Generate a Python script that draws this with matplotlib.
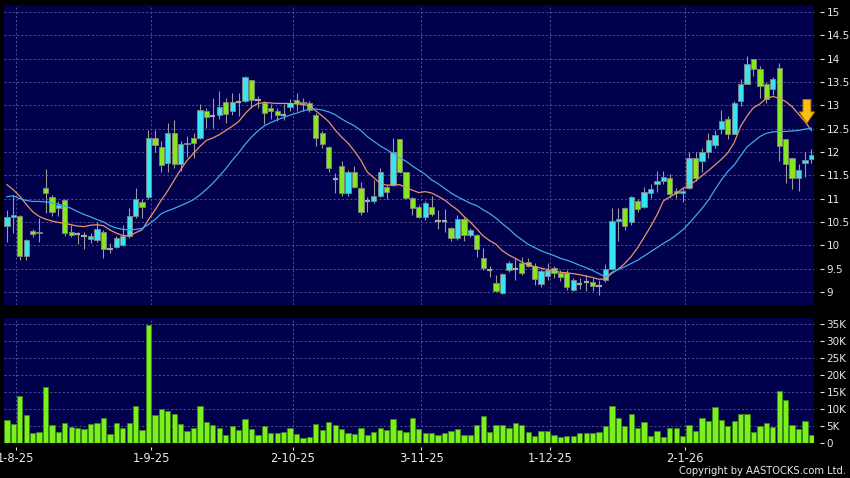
import matplotlib
matplotlib.use('Agg')
import matplotlib.pyplot as plt
import numpy as np

# daily candles, one per trading day (index 0 = 31-7-25, last = 30-1-26)
opens = [10.41, 10.60, 10.63, 9.77, 10.31, 10.26, 11.22, 11.04, 10.79, 10.97,
         10.28, 10.24, 10.19, 10.14, 10.11, 10.29, 9.91, 9.97, 10.01, 10.19,
         10.63, 10.92, 11.03, 12.31, 12.11, 11.76, 12.41, 11.74, 12.17, 12.29,
         12.31, 12.88, 12.77, 12.79, 13.08, 12.88, 13.08, 13.09, 13.54, 13.11,
         13.06, 12.95, 12.88, 12.79, 12.96, 13.11, 13.08, 13.04, 12.80, 12.40,
         12.10, 11.43, 11.69, 11.11, 11.58, 11.22, 10.94, 10.94, 11.06, 11.24,
         11.29, 12.27, 11.56, 11.01, 10.81, 10.61, 10.83, 10.53, 10.53, 10.36,
         10.15, 10.56, 10.22, 10.22, 9.72, 9.48, 9.20, 8.98, 9.46, 9.49,
         9.61, 9.65, 9.56, 9.17, 9.34, 9.51, 9.41, 9.41, 9.04, 9.17,
         9.22, 9.22, 9.13, 9.26, 9.49, 10.51, 10.79, 10.49, 10.94, 10.81,
         11.13, 11.31, 11.38, 11.45, 11.16, 11.11, 11.22, 11.86, 11.81, 11.99,
         12.15, 12.49, 12.70, 12.39, 13.09, 13.45, 13.99, 13.77, 13.46, 13.36,
         13.79, 12.27, 11.88, 11.44, 11.76, 11.84]
highs = [10.76, 11.08, 10.65, 10.14, 10.35, 10.59, 11.63, 11.08, 10.95, 11.00,
         10.44, 10.29, 10.29, 10.27, 10.50, 10.33, 10.04, 10.20, 10.44, 10.80,
         11.22, 10.99, 12.48, 12.48, 12.23, 12.62, 12.68, 12.24, 12.35, 12.41,
         13.02, 12.95, 13.15, 13.31, 13.15, 13.27, 13.27, 13.63, 13.54, 13.20,
         13.09, 13.02, 12.95, 13.02, 13.13, 13.27, 13.16, 13.10, 12.84, 12.45,
         12.13, 11.54, 11.81, 11.62, 11.69, 11.36, 11.04, 11.39, 11.65, 11.29,
         12.29, 12.27, 11.58, 11.04, 10.86, 10.95, 11.05, 10.75, 10.78, 10.40,
         10.65, 10.60, 10.36, 10.25, 9.95, 9.55, 9.36, 9.40, 9.66, 9.72,
         9.74, 9.72, 9.61, 9.50, 9.62, 9.55, 9.48, 9.47, 9.29, 9.29,
         9.36, 9.29, 9.25, 9.59, 10.80, 10.80, 10.83, 11.05, 10.99, 11.24,
         11.31, 11.59, 11.59, 11.52, 11.23, 11.23, 11.99, 11.99, 12.09, 12.41,
         12.47, 12.91, 12.77, 13.10, 13.56, 14.06, 13.99, 13.84, 13.51, 13.60,
         13.91, 12.27, 11.88, 11.75, 12.00, 12.07]
lows = [10.06, 10.27, 9.69, 9.69, 10.17, 10.08, 10.69, 10.63, 10.63, 10.20,
        10.17, 10.02, 9.93, 10.04, 10.07, 9.72, 9.84, 9.95, 9.99, 10.16,
        10.58, 10.58, 11.00, 12.00, 11.58, 11.56, 11.66, 11.59, 11.90, 11.88,
        12.27, 12.52, 12.52, 12.70, 12.63, 12.80, 12.77, 13.07, 12.95, 12.95,
        12.59, 12.70, 12.66, 12.68, 12.88, 12.88, 12.88, 12.86, 12.13, 12.08,
        11.56, 11.11, 11.05, 11.05, 11.22, 10.65, 10.72, 10.90, 11.03, 10.99,
        11.26, 11.55, 10.99, 10.65, 10.58, 10.55, 10.62, 10.35, 10.28, 10.10,
        10.12, 10.10, 10.18, 9.75, 9.48, 9.33, 9.00, 8.96, 9.43, 9.25,
        9.37, 9.53, 9.15, 9.11, 9.25, 9.30, 9.24, 9.04, 9.01, 9.06,
        9.03, 9.01, 8.94, 9.22, 9.47, 10.10, 10.33, 10.44, 10.72, 10.79,
        11.02, 11.14, 11.31, 11.02, 11.02, 10.92, 11.20, 11.38, 11.56, 11.88,
        12.09, 12.38, 12.27, 12.38, 12.98, 13.45, 13.63, 13.16, 13.06, 13.23,
        11.80, 11.34, 11.20, 11.17, 11.47, 11.77]
closes = [10.60, 10.65, 9.77, 10.11, 10.24, 10.29, 11.13, 10.72, 10.86, 10.26,
          10.21, 10.24, 10.19, 10.20, 10.34, 9.91, 9.91, 10.15, 10.20, 10.63,
          10.99, 10.82, 12.31, 12.15, 11.72, 12.41, 11.74, 12.18, 12.20, 12.20,
          12.89, 12.75, 12.77, 12.96, 12.81, 13.08, 13.08, 13.61, 13.11, 13.11,
          12.84, 12.88, 12.79, 12.79, 13.04, 13.06, 13.04, 12.91, 12.29, 12.17,
          11.66, 11.43, 11.12, 11.56, 11.24, 10.72, 10.94, 11.06, 11.56, 11.15,
          11.99, 11.56, 11.01, 10.79, 10.60, 10.90, 10.67, 10.53, 10.53, 10.15,
          10.56, 10.22, 10.33, 9.92, 9.51, 9.48, 9.03, 9.39, 9.63, 9.49,
          9.40, 9.56, 9.27, 9.44, 9.46, 9.40, 9.33, 9.10, 9.26, 9.17,
          9.22, 9.13, 9.13, 9.49, 10.51, 10.56, 10.41, 11.03, 10.77, 11.15,
          11.21, 11.38, 11.46, 11.09, 11.11, 11.16, 11.86, 11.45, 12.00, 12.25,
          12.36, 12.66, 12.39, 13.06, 13.45, 13.88, 13.77, 13.41, 13.13, 13.56,
          12.13, 11.75, 11.44, 11.61, 11.82, 11.93]
volume_k = [6.8, 5.6, 14.0, 8.4, 3.1, 3.4, 16.5, 5.4, 3.2, 5.8,
            4.9, 4.5, 4.1, 5.7, 6.0, 7.5, 2.8, 5.9, 4.4, 5.8,
            10.9, 3.9, 34.7, 8.3, 9.9, 9.6, 8.5, 5.6, 3.7, 4.5,
            10.9, 6.1, 5.5, 4.5, 2.4, 5.0, 3.8, 7.1, 4.2, 2.4,
            5.0, 2.9, 2.9, 3.3, 4.5, 2.7, 1.6, 1.9, 5.6, 3.9,
            6.2, 5.3, 4.1, 3.1, 2.7, 4.4, 2.4, 3.4, 4.4, 3.8,
            7.1, 3.9, 3.3, 7.3, 4.2, 2.9, 2.9, 2.3, 3.0, 3.7,
            4.2, 2.3, 2.4, 5.4, 8.0, 3.2, 5.4, 5.4, 4.5, 5.9,
            5.5, 3.3, 2.2, 3.7, 3.6, 2.3, 1.8, 2.2, 2.0, 3.0,
            2.9, 2.9, 3.2, 5.0, 10.8, 7.5, 5.0, 8.5, 4.5, 6.1,
            2.2, 3.7, 1.7, 4.5, 4.6, 2.2, 5.3, 3.7, 7.4, 6.6,
            10.7, 6.7, 5.1, 6.6, 8.5, 8.7, 3.3, 5.1, 5.8, 4.7,
            15.3, 12.7, 5.4, 4.2, 6.5, 2.3]
# moving average lines
ma10 = [11.30, 11.19, 11.05, 10.88, 10.72, 10.62, 10.56, 10.52, 10.49, 10.47,
        10.44, 10.41, 10.40, 10.43, 10.44, 10.42, 10.33, 10.26, 10.21, 10.20,
        10.27, 10.33, 10.55, 10.75, 10.97, 11.17, 11.40, 11.62, 11.82, 11.97,
        12.12, 12.25, 12.30, 12.37, 12.46, 12.55, 12.65, 12.82, 12.96, 13.04,
        13.06, 13.05, 13.04, 13.04, 13.04, 13.03, 13.02, 12.99, 12.88, 12.77,
        12.65, 12.47, 12.32, 12.19, 12.02, 11.82, 11.57, 11.45, 11.33, 11.29,
        11.29, 11.30, 11.24, 11.18, 11.13, 11.15, 11.12, 11.05, 10.97, 10.86,
        10.76, 10.62, 10.50, 10.35, 10.20, 10.10, 10.02, 9.88, 9.79, 9.72,
        9.64, 9.58, 9.54, 9.51, 9.48, 9.45, 9.42, 9.41, 9.39, 9.37,
        9.34, 9.31, 9.27, 9.28, 9.40, 9.49, 9.61, 9.76, 9.95, 10.17,
        10.40, 10.65, 10.95, 11.04, 11.11, 11.22, 11.28, 11.38, 11.49, 11.60,
        11.72, 11.84, 11.98, 12.20, 12.55, 12.77, 12.95, 13.03, 13.15, 13.19,
        13.15, 13.08, 12.97, 12.81, 12.65, 12.46]
ma20 = [11.04, 11.06, 11.00, 10.96, 10.94, 10.94, 10.93, 10.91, 10.88, 10.84,
        10.79, 10.72, 10.66, 10.61, 10.55, 10.50, 10.42, 10.37, 10.34, 10.33,
        10.34, 10.36, 10.45, 10.55, 10.68, 10.74, 10.79, 10.85, 10.91, 10.98,
        11.08, 11.20, 11.33, 11.48, 11.64, 11.82, 11.98, 12.16, 12.32, 12.45,
        12.56, 12.63, 12.69, 12.74, 12.79, 12.83, 12.88, 12.92, 12.92, 12.90,
        12.86, 12.80, 12.71, 12.63, 12.56, 12.46, 12.33, 12.23, 12.13, 12.05,
        11.97, 11.88, 11.80, 11.70, 11.61, 11.52, 11.40, 11.32, 11.22, 11.12,
        11.04, 10.97, 10.90, 10.85, 10.76, 10.68, 10.58, 10.46, 10.35, 10.22,
        10.12, 10.02, 9.95, 9.88, 9.83, 9.78, 9.72, 9.68, 9.63, 9.57,
        9.52, 9.46, 9.39, 9.32, 9.42, 9.48, 9.54, 9.61, 9.68, 9.77,
        9.86, 9.95, 10.04, 10.12, 10.22, 10.33, 10.47, 10.63, 10.79, 10.97,
        11.19, 11.40, 11.58, 11.72, 11.92, 12.11, 12.22, 12.33, 12.40, 12.43,
        12.44, 12.44, 12.45, 12.46, 12.49, 12.51]

date_labels = ['1-8-25', '1-9-25', '2-10-25', '3-11-25', '1-12-25', '2-1-26']
date_idx = [1, 22, 44, 64, 84, 105]
price_ticks = [9, 9.5, 10, 10.5, 11, 11.5, 12, 12.5, 13, 13.5, 14, 14.5, 15]
vol_ticks = [0, 5, 10, 15, 20, 25, 30, 35]
arrow_idx, arrow_top, arrow_tip = 124.3, 13.12, 12.62

panel = '#00004c'
gridc = '#5c5c9c'
up_c = '#38e4f0'
dn_c = '#84e81c'
txt = '#e8e8e8'

fig = plt.figure(figsize=(8.5, 4.78), dpi=100, facecolor='black')
W, H = 850.0, 478.0
ax = fig.add_axes([4 / W, 1 - 305 / H, 810 / W, 300 / H], facecolor=panel)
axv = fig.add_axes([4 / W, 1 - 443.3 / H, 810 / W, 125.3 / H], facecolor=panel, sharex=ax)

x = np.arange(len(closes))
o = np.array(opens); c = np.array(closes)
h = np.array(highs); l = np.array(lows)
up = c > o
dn = c < o
flat = c == o
bw = 0.82

ax.vlines(x, l, h, color='#9a9a9a', lw=0.8, zorder=2)
ax.bar(x[up], (c - o)[up], bottom=o[up], width=bw, color=up_c,
       edgecolor='#858585', linewidth=0.6, zorder=3)
ax.bar(x[dn], (o - c)[dn], bottom=c[dn], width=bw, color=dn_c,
       edgecolor='#858585', linewidth=0.6, zorder=3)
ax.hlines(c[flat], x[flat] - bw / 2, x[flat] + bw / 2, color='#a8a8a8', lw=1.6, zorder=3)

ax.plot(x, ma10, color='#e8946a', lw=0.9, zorder=4)
ax.plot(x, ma20, color='#40a8e8', lw=0.9, zorder=4)

# down arrow marker at the right end
ax.annotate('', xy=(arrow_idx, arrow_tip), xytext=(arrow_idx, arrow_top),
            arrowprops=dict(arrowstyle='simple,head_width=1.35,head_length=1.0,tail_width=0.7',
                            fc='#f8c010', ec='#d08a00', lw=0.7, mutation_scale=8,
                            shrinkA=0, shrinkB=0), zorder=5)

axv.bar(x, volume_k, width=bw, color='#7cf01c', edgecolor='#3a8a10', linewidth=0.5, zorder=3)

ax.set_xlim(-0.45, 125.4)
ax.set_ylim(8.72, 15.15)
axv.set_ylim(0, 36.7)

tick_pos = [i + 0.4 for i in date_idx]
for a in (ax, axv):
    a.set_xticks(tick_pos)
    a.grid(True, color=gridc, linestyle=(0, (2.5, 2.5)), lw=0.6, zorder=1)
    a.set_axisbelow(True)
    a.yaxis.tick_right()
    for s in a.spines.values():
        s.set_visible(False)
    a.spines['right'].set_position(('outward', 4))
    a.spines['bottom'].set_position(('outward', 3))
    a.tick_params(axis='y', colors=txt, length=3, width=0.8, pad=2, labelsize=7.5)

ax.set_yticks(price_ticks, labels=[f'{v:g}' for v in price_ticks])
axv.set_yticks(vol_ticks, labels=['0' if v == 0 else f'{v}K' for v in vol_ticks])
ax.tick_params(axis='x', length=0, labelbottom=False)
axv.set_xticklabels(date_labels)
axv.tick_params(axis='x', colors=txt, length=2.5, width=0.8, pad=0.5, labelsize=8.3)

fig.text(846 / W, 1 - 471 / H, 'Copyright by AASTOCKS.com Ltd.', color=txt,
         fontsize=7.2, ha='right', va='center')

fig.savefig('out.png', dpi=100, facecolor='black')
